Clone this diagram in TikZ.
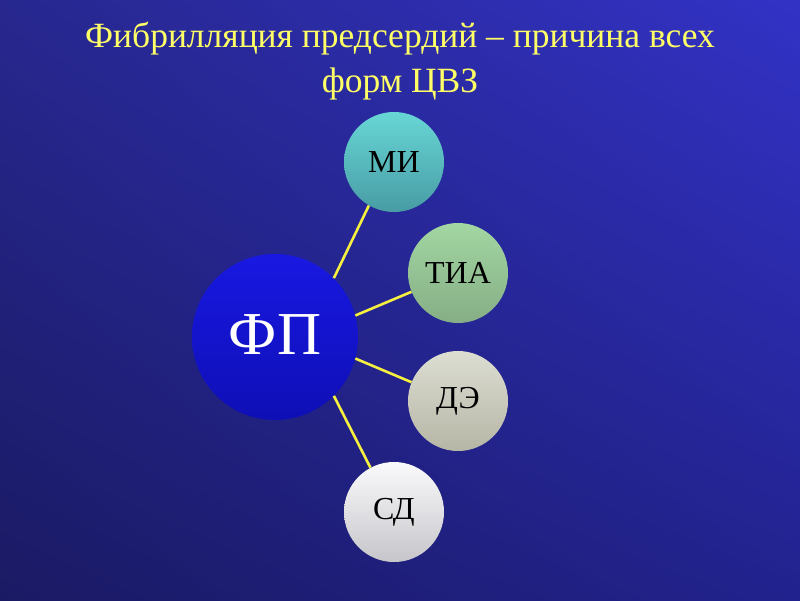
\documentclass[tikz,border=0pt]{standalone}
\usepackage{fontspec}
\setmainfont{Liberation Serif}
\usetikzlibrary{shadings}
\definecolor{bgUL}{HTML}{27278F}
\definecolor{bgUR}{HTML}{3232C6}
\definecolor{bgLL}{HTML}{1A1A64}
\definecolor{bgLR}{HTML}{22228E}
\definecolor{titleyellow}{HTML}{FFFF66}
\definecolor{linkyellow}{HTML}{F5F040}
\definecolor{fpTop}{HTML}{1818E2}
\definecolor{fpBot}{HTML}{0F0FB6}
\definecolor{miTop}{HTML}{68D6D6}
\definecolor{miBot}{HTML}{489CA4}
\definecolor{tiaTop}{HTML}{A2D6A2}
\definecolor{tiaBot}{HTML}{86AE86}
\definecolor{deTop}{HTML}{DCDED2}
\definecolor{deBot}{HTML}{B6B6A6}
\definecolor{sdTop}{HTML}{FAFAFC}
\definecolor{sdBot}{HTML}{C6C6CA}
\tikzset{
  smallcirc/.style={circle, inner sep=0pt, minimum size=100pt, text=black, font=\fontsize{32}{32}\selectfont},
  link/.style={draw=linkyellow, line width=2.6pt},
  titletext/.style={text=titleyellow, font=\fontsize{35.5}{36}\selectfont, anchor=base, inner sep=0pt}
}
\begin{document}
\begin{tikzpicture}[x=1pt,y=-1pt]
\useasboundingbox (0,0) rectangle (800,600);
\shade[upper left=bgUL, upper right=bgUR, lower left=bgLL, lower right=bgLR] (0,0) rectangle (800,600);
\node[titletext] (t1) at (400,47) {Фибрилляция предсердий – причина всех};
\node[titletext] (t2) at (400,92) {форм ЦВЗ};
\node[circle, inner sep=0pt, minimum size=166pt, top color=fpTop, bottom color=fpBot, text=white, font=\fontsize{61}{61}\selectfont] (fp) at (275,337) {\raisebox{4pt}{ФП}};
\node[smallcirc, top color=miTop, bottom color=miBot] (mi) at (394,162) {МИ};
\node[smallcirc, top color=tiaTop, bottom color=tiaBot] (tia) at (458,273) {ТИА};
\node[smallcirc, top color=deTop, bottom color=deBot] (de) at (458,401) {ДЭ};
\node[smallcirc, top color=sdTop, bottom color=sdBot] (sd) at (394,512) {СД};
\draw[link] (fp.45) -- (mi.240);
\draw[link] (fp.15) -- (tia.202);
\draw[link] (fp.-15) -- (de.158);
\draw[link] (fp.-45) -- (sd.118);
\end{tikzpicture}
\end{document}
